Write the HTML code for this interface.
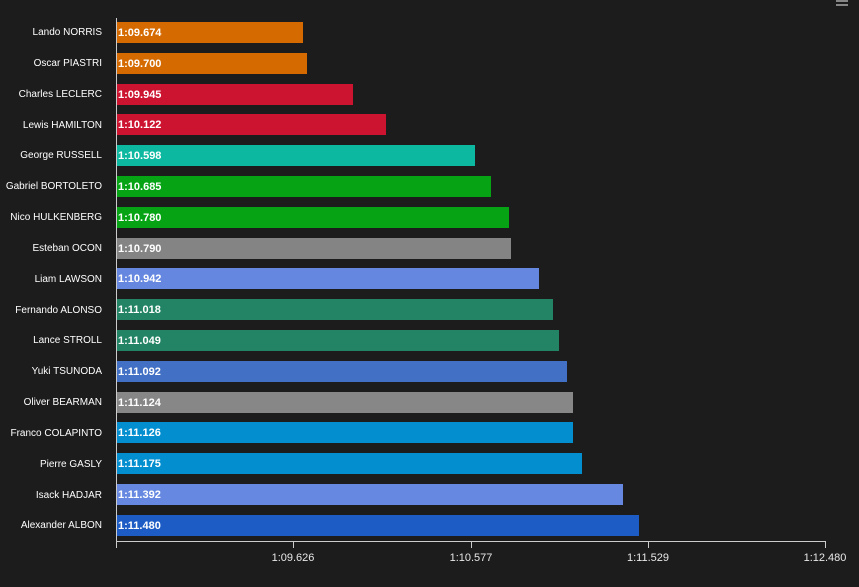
<!DOCTYPE html>
<html><head><meta charset="utf-8"><style>
body{margin:0;background:#1c1c1c;width:859px;height:582px;overflow:hidden;font-family:"Liberation Sans",Arial,sans-serif;}
</style></head><body>
<svg width="859" height="582" xmlns="http://www.w3.org/2000/svg">
<rect width="859" height="582" fill="#1c1c1c"/>
<g stroke="#aaa" stroke-width="1.5"><line x1="836" y1="1" x2="848" y2="1"/><line x1="836" y1="5" x2="848" y2="5"/></g>
<g id="bars" font-size="11" font-weight="bold"></g>
<line x1="116.5" y1="18" x2="116.5" y2="542" stroke="#ccc" stroke-width="1"/>
<line x1="116" y1="541.5" x2="826" y2="541.5" stroke="#ccc" stroke-width="1"/>
<g stroke="#ccc"><line x1="116.5" y1="542" x2="116.5" y2="548"/><line x1="293.5" y1="542" x2="293.5" y2="548"/><line x1="471.5" y1="542" x2="471.5" y2="548"/><line x1="648.5" y1="542" x2="648.5" y2="548"/><line x1="825.5" y1="542" x2="825.5" y2="548"/></g>
<g fill="#e8e8e8" font-size="11" text-anchor="middle"><text x="293" y="561">1:09.626</text><text x="471" y="561">1:10.577</text><text x="648" y="561">1:11.529</text><text x="825" y="561">1:12.480</text></g>
<g fill="#fff" font-size="10" text-anchor="end">
<text x="102" y="35">Lando NORRIS</text><text x="102" y="66">Oscar PIASTRI</text><text x="102" y="97">Charles LECLERC</text><text x="102" y="128">Lewis HAMILTON</text><text x="102" y="158">George RUSSELL</text><text x="102" y="189">Gabriel BORTOLETO</text><text x="102" y="220">Nico HULKENBERG</text><text x="102" y="251">Esteban OCON</text><text x="102" y="282">Liam LAWSON</text><text x="102" y="313">Fernando ALONSO</text><text x="102" y="343">Lance STROLL</text><text x="102" y="374">Yuki TSUNODA</text><text x="102" y="405">Oliver BEARMAN</text><text x="102" y="436">Franco COLAPINTO</text><text x="102" y="467">Pierre GASLY</text><text x="102" y="498">Isack HADJAR</text><text x="102" y="528">Alexander ALBON</text>
</g>
<g font-size="11" font-weight="bold" fill="#fff">
<rect x="117" y="22" width="186" height="21" fill="#d46a00"/><text x="118" y="36">1:09.674</text>
<rect x="117" y="53" width="190" height="21" fill="#d46a00"/><text x="118" y="67">1:09.700</text>
<rect x="117" y="84" width="236" height="21" fill="#cc1430"/><text x="118" y="98">1:09.945</text>
<rect x="117" y="114" width="269" height="21" fill="#cc1430"/><text x="118" y="128">1:10.122</text>
<rect x="117" y="145" width="358" height="21" fill="#0cb8a0"/><text x="118" y="159">1:10.598</text>
<rect x="117" y="176" width="374" height="21" fill="#06a414"/><text x="118" y="190">1:10.685</text>
<rect x="117" y="207" width="392" height="21" fill="#06a414"/><text x="118" y="221">1:10.780</text>
<rect x="117" y="238" width="394" height="21" fill="#848484"/><text x="118" y="252">1:10.790</text>
<rect x="117" y="268" width="422" height="21" fill="#6687e0"/><text x="118" y="282">1:10.942</text>
<rect x="117" y="299" width="436" height="21" fill="#228464"/><text x="118" y="313">1:11.018</text>
<rect x="117" y="330" width="442" height="21" fill="#228464"/><text x="118" y="344">1:11.049</text>
<rect x="117" y="361" width="450" height="21" fill="#4270c4"/><text x="118" y="375">1:11.092</text>
<rect x="117" y="392" width="456" height="21" fill="#878787"/><text x="118" y="406">1:11.124</text>
<rect x="117" y="422" width="456" height="21" fill="#038ed0"/><text x="118" y="436">1:11.126</text>
<rect x="117" y="453" width="465" height="21" fill="#038ed0"/><text x="118" y="467">1:11.175</text>
<rect x="117" y="484" width="506" height="21" fill="#6688e0"/><text x="118" y="498">1:11.392</text>
<rect x="117" y="515" width="522" height="21" fill="#1c5cc4"/><text x="118" y="529">1:11.480</text>
</g>
</svg>
</body></html>
